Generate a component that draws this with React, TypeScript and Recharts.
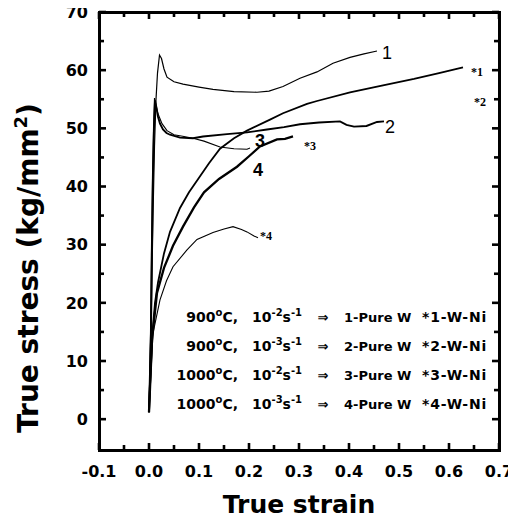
import React from 'react';
import { LineChart, Line, XAxis, YAxis, ReferenceDot } from 'recharts';

// ---- axis ticks ----
const xTicks = [-0.1, -0.05, 0, 0.05, 0.1, 0.15, 0.2, 0.25, 0.3, 0.35, 0.4, 0.45, 0.5, 0.55, 0.6, 0.65, 0.7];
const yTicks = [0, 5, 10, 15, 20, 25, 30, 35, 40, 45, 50, 55, 60, 65, 70];
const xDomain = [-0.1, 0.7];
const yDomain = [-5.3, 70];

// ---- curve 1 : Pure W, 900C, 1e-2 ----
const pure1Strain = [0, 0.005, 0.008, 0.011, 0.014, 0.017, 0.021, 0.025, 0.03, 0.036, 0.05, 0.068, 0.1, 0.128, 0.17, 0.216, 0.24, 0.268, 0.302, 0.336, 0.368, 0.402, 0.43, 0.456];
const pure1Stress = [1.2, 20, 35, 47, 55, 59.5, 62.6, 62, 60.2, 58.8, 58, 57.6, 57.1, 56.7, 56.3, 56.2, 56.4, 57.2, 58.6, 59.7, 61.2, 62.2, 62.8, 63.3];

// ---- curve 2 : Pure W, 900C, 1e-3 ----
const pure2Strain = [0, 0.004, 0.006, 0.008, 0.01, 0.012, 0.015, 0.018, 0.022, 0.028, 0.035, 0.042, 0.062, 0.088, 0.108, 0.156, 0.196, 0.236, 0.27, 0.302, 0.34, 0.382, 0.395, 0.41, 0.435, 0.456, 0.47];
const pure2Stress = [1.2, 15, 30, 42, 50, 54.8, 53.5, 52, 50.8, 49.8, 49.2, 48.9, 48.4, 48.3, 48.6, 49, 49.3, 49.8, 50.2, 50.7, 51, 51.2, 50.6, 50.3, 50.4, 51.1, 51.2];

// ---- curve 3 : Pure W, 1000C, 1e-2 ----
const pure3Strain = [0, 0.003, 0.005, 0.007, 0.009, 0.011, 0.014, 0.018, 0.026, 0.036, 0.05, 0.07, 0.088, 0.11, 0.142, 0.17, 0.196, 0.202];
const pure3Stress = [1.2, 15, 30, 42, 50, 55.2, 54, 52.5, 50.8, 49.6, 48.9, 48.6, 48.3, 47.8, 46.8, 46.5, 46.4, 46.6];

// ---- *1 : W-Ni, 900C, 1e-2 ----
const alloy1Strain = [0, 0.006, 0.012, 0.018, 0.03, 0.042, 0.062, 0.08, 0.1, 0.12, 0.142, 0.17, 0.196, 0.242, 0.268, 0.316, 0.336, 0.402, 0.468, 0.53, 0.58, 0.628];
const alloy1Stress = [1.2, 14, 20, 23.5, 28.5, 32.2, 36.3, 39, 41.5, 44, 46.5, 48.3, 49.6, 51.5, 52.6, 54.2, 54.7, 56.2, 57.4, 58.5, 59.5, 60.5];

// ---- *3 : W-Ni, 1000C, 1e-2 ----
const alloy3Strain = [0, 0.006, 0.016, 0.03, 0.048, 0.068, 0.09, 0.11, 0.14, 0.176, 0.2, 0.222, 0.256, 0.272, 0.288];
const alloy3Stress = [1.2, 13.6, 21.7, 26, 29.8, 33.1, 36.4, 39, 41.3, 43.4, 45.2, 46.9, 48.1, 48.2, 48.6];

// ---- *4 : W-Ni, 1000C, 1e-3 ----
const alloy4Strain = [0, 0.004, 0.008, 0.022, 0.035, 0.048, 0.076, 0.096, 0.128, 0.15, 0.168, 0.185, 0.196, 0.21, 0.218];
const alloy4Stress = [1.2, 8, 14.8, 20.5, 23.8, 26.2, 29.1, 30.9, 32.1, 32.7, 33.1, 32.6, 32.2, 31.5, 31.2];

// ---- curve end labels (strain, stress) ----
const pureLabelText = ['1', '2', '3', '4'];
const pureLabelStrain = [0.476, 0.482, 0.222, 0.218];
const pureLabelStress = [63.0, 50.3, 47.9, 42.9];
const alloyLabelText = ['*1', '*2', '*3', '*4'];
const alloyLabelStrain = [0.656, 0.662, 0.322, 0.234];
const alloyLabelStress = [59.8, 54.6, 47.0, 31.5];

// ---- condition legend ----
const legendTemp = ['900', '900', '1000', '1000'];
const legendRateExp = ['-2', '-3', '-2', '-3'];
const legendPure = ['1-Pure W', '2-Pure W', '3-Pure W', '4-Pure W'];
const legendAlloy = ['*1-W-Ni', '*2-W-Ni', '*3-W-Ni', '*4-W-Ni'];

const zip = (xs: number[], ys: number[]) => xs.map((x, i) => ({ x, y: ys[i] }));

const series = [
  { key: 'p1', data: zip(pure1Strain, pure1Stress), w: 1.2 },
  { key: 'p2', data: zip(pure2Strain, pure2Stress), w: 1.9 },
  { key: 'p3', data: zip(pure3Strain, pure3Stress), w: 1.1 },
  { key: 'a1', data: zip(alloy1Strain, alloy1Stress), w: 1.8 },
  { key: 'a3', data: zip(alloy3Strain, alloy3Stress), w: 2.3 },
  { key: 'a4', data: zip(alloy4Strain, alloy4Stress), w: 1.1 },
];

const W = 516;
const H = 524;
const Y_AXIS_W = 70;
const X_AXIS_H = 60;
const MARGIN = { top: 12, right: 17, bottom: 14, left: 29 };
const PLOT_LEFT = MARGIN.left + Y_AXIS_W;
const PLOT_TOP = MARGIN.top;
const PLOT_RIGHT = W - MARGIN.right;
const PLOT_BOTTOM = H - MARGIN.bottom - X_AXIS_H;
const FRAME_W = 3;

const FONT = 'DejaVu Sans';
const isMajor = (v: number, step: number) => Math.abs(v / step - Math.round(v / step)) < 1e-6;

const BottomTick = (p: any) => {
  const { x, y, payload } = p;
  const v = payload.value as number;
  const major = isMajor(v, 0.1);
  const len = major ? 7 : 5;
  return (
    <g>
      <path d={`M${x},${y}V${y - len}`} stroke="#000" strokeWidth={2.6} fill="none" />
      <path d={`M${x},${PLOT_TOP}V${PLOT_TOP + len}`} stroke="#000" strokeWidth={2.6} fill="none" />
      {major && (
        <text x={x} y={y + 27} textAnchor="middle" fontFamily={FONT} fontWeight="bold" fontSize={16} fill="#000">
          {Math.abs(v) < 1e-9 ? '0.0' : v.toFixed(1)}
        </text>
      )}
    </g>
  );
};
const LeftTick = (p: any) => {
  const { x, y, payload } = p;
  const v = payload.value as number;
  const major = isMajor(v, 10);
  const len = major ? 7 : 5;
  return (
    <g>
      <path d={`M${x},${y}H${x + len}`} stroke="#000" strokeWidth={2.6} fill="none" />
      <path d={`M${PLOT_RIGHT},${y}H${PLOT_RIGHT - len}`} stroke="#000" strokeWidth={2.6} fill="none" />
      {major && (
        <text x={x - 11} y={y} dy="0.36em" textAnchor="end" fontFamily={FONT} fontWeight="bold" fontSize={16} fill="#000">
          {v}
        </text>
      )}
    </g>
  );
};

const h = FRAME_W / 2;

export default function App() {
  return (
    <div style={{ position: 'relative', width: W, height: H, marginLeft: -8, marginTop: -8 }}>
      <LineChart width={W} height={H} margin={MARGIN}>
        <XAxis
          type="number"
          dataKey="x"
          domain={xDomain}
          ticks={xTicks}
          interval={0}
          height={X_AXIS_H}
          tickSize={0}
          tickMargin={0}
          tickLine={false}
          axisLine={false}
          tick={<BottomTick />}
        />
        <YAxis
          type="number"
          dataKey="y"
          domain={yDomain}
          ticks={yTicks}
          interval={0}
          width={Y_AXIS_W}
          tickSize={0}
          tickMargin={0}
          tickLine={false}
          axisLine={false}
          tick={<LeftTick />}
        />
        {series.map((s) => (
          <Line
            key={s.key}
            data={s.data}
            dataKey="y"
            type="linear"
            stroke="#000"
            strokeWidth={s.w}
            dot={false}
            activeDot={false}
            isAnimationActive={false}
          />
        ))}
        {pureLabelText.map((t, i) => (
          <ReferenceDot
            key={'pl' + t}
            x={pureLabelStrain[i]}
            y={pureLabelStress[i]}
            r={0}
            ifOverflow="visible"
            label={{
              value: t,
              position: 'center',
              fill: '#000',
              fontSize: 18,
              fontFamily: 'Liberation Sans',
              fontWeight: i >= 2 ? 'bold' : 'normal',
            }}
          />
        ))}
        {alloyLabelText.map((t, i) => (
          <ReferenceDot
            key={'al' + t}
            x={alloyLabelStrain[i]}
            y={alloyLabelStress[i]}
            r={0}
            ifOverflow="visible"
            label={{
              value: t,
              position: 'center',
              fill: '#000',
              fontSize: 12,
              fontFamily: 'Liberation Serif',
              fontWeight: 'bold',
            }}
          />
        ))}
      </LineChart>
      {/* plot frame drawn as four filled bars */}
      <div style={{ position: 'absolute', left: PLOT_LEFT - h, top: PLOT_TOP - h, width: PLOT_RIGHT - PLOT_LEFT + FRAME_W, height: FRAME_W, background: '#000' }} />
      <div style={{ position: 'absolute', left: PLOT_LEFT - h, top: PLOT_BOTTOM - h, width: PLOT_RIGHT - PLOT_LEFT + FRAME_W, height: FRAME_W, background: '#000' }} />
      <div style={{ position: 'absolute', left: PLOT_LEFT - h, top: PLOT_TOP - h, width: FRAME_W, height: PLOT_BOTTOM - PLOT_TOP + FRAME_W, background: '#000' }} />
      <div style={{ position: 'absolute', left: PLOT_RIGHT - h, top: PLOT_TOP - h, width: FRAME_W, height: PLOT_BOTTOM - PLOT_TOP + FRAME_W, background: '#000' }} />
      <svg width={W} height={H} style={{ position: 'absolute', left: 0, top: 0, pointerEvents: 'none' }}>
        <text
          x={38}
          y={268}
          transform="rotate(-90 38 268)"
          textAnchor="middle"
          fontFamily={FONT}
          fontWeight="bold"
          fontSize={28}
          fill="#000"
        >
          True stress  (kg/mm
          <tspan dy={-11} fontSize={18}>2</tspan>
          <tspan dy={11}>)</tspan>
        </text>
        <text x={299} y={513} textAnchor="middle" fontFamily={FONT} fontWeight="bold" fontSize={25} fill="#000">
          True strain
        </text>
        {legendTemp.map((t, i) => {
          const base = 322 + i * 29;
          const common = { fontFamily: FONT, fontWeight: 'bold' as const, fontSize: 14, fill: '#000' };
          return (
            <g key={'lg' + i}>
              <text x={238} y={base} textAnchor="end" {...common}>
                {t}
                <tspan dy={-6} fontSize={10}>o</tspan>
                <tspan dy={6}>C,</tspan>
              </text>
              <text x={252} y={base} {...common}>
                10
                <tspan dy={-6} fontSize={10}>{legendRateExp[i]}</tspan>
                <tspan dy={6}>s</tspan>
                <tspan dy={-6} fontSize={10}>-1</tspan>
              </text>
              <text x={323} y={base} textAnchor="middle" {...common} fontSize={13}>
                ⇒
              </text>
              <text x={344} y={base} {...common} fontSize={13}>
                {legendPure[i]}
              </text>
              <text x={487} y={base} textAnchor="end" {...common} letterSpacing={0.8}>
                {legendAlloy[i]}
              </text>
            </g>
          );
        })}
      </svg>
    </div>
  );
}
